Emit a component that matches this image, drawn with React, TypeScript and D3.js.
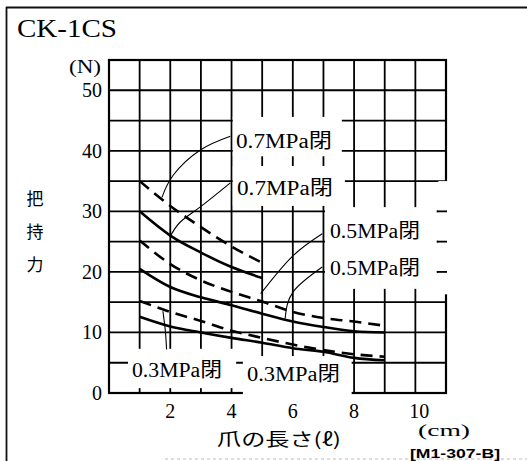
import React from "react";
import * as d3 from "d3";

// ---- data ----
const lengthsShort = [1, 2, 3, 4, 5];
const lengthsLong = [1, 2, 3, 4, 5, 6, 7, 8, 9];
const force07Dashed = [35.0, 30.9, 27.4, 24.2, 21.5];
const force07Solid = [30.0, 26.0, 23.2, 20.8, 19.0];
const force05Dashed = [25.2, 21.3, 18.6, 16.7, 15.1, 13.4, 12.4, 11.8, 11.1];
const force05Solid = [20.5, 17.5, 15.8, 14.5, 13.1, 11.8, 10.9, 10.2, 10.0];
const force03Dashed = [15.2, 13.4, 11.9, 10.3, 9.1, 8.0, 7.1, 6.4, 6.0];
const force03Solid = [12.6, 11.0, 10.0, 9.1, 8.3, 7.4, 6.8, 5.8, 5.4];

const xTickValues = [2, 4, 6, 8, 10];
const yTickValues = [0, 10, 20, 30, 40, 50];
const gridXValues = d3.range(0, 12, 1);
const gridYValues = d3.range(0, 56, 5);

const labelTexts = ["0.7MPa閉", "0.7MPa閉", "0.5MPa閉", "0.5MPa閉", "0.3MPa閉", "0.3MPa閉"];
const titleText = "CK-1CS";
const yTitleChars = ["把", "持", "力"];
const xTitleText = "爪の長さ(ℓ)";
const unitY = "(N)";
const unitX = "(cm)";
const codeText = "[M1-307-B]";

// leader lines (data coordinates)
const leaderPaths: [number, number][][] = [
  [[3.96, 42.4], [2.97, 40.1], [2.1, 36.0], [1.73, 32.3]],
  [[3.96, 34.7], [2.97, 30.7], [2.32, 28.2], [1.99, 25.8]],
  [[6.96, 26.3], [5.97, 22.5], [4.95, 16.4]],
  [[6.96, 20.8], [6.01, 16.7], [5.75, 12.3]],
  [[1.88, 7.2], [1.84, 10.2], [1.76, 13.5]],
];

// ---- layout ----
const W = 527;
const H = 461;
const x = d3.scaleLinear().domain([0, 11]).range([109, 446]);
const y = d3.scaleLinear().domain([0, 55]).range([393, 60]);

// white label boxes in data units [x0, x1, y0, y1]
const boxes: [number, number, number, number][] = [
  [4.04, 7.6, 39.1, 45.6],
  [4.04, 7.7, 30.9, 37.5],
  [7.05, 10.7, 17.2, 30.7],
  [0.62, 4.15, 0.8, 7.3],
  [4.37, 7.92, -0.4, 6.1],
];

const labelPos = [
  { x: 236, y: 148, w: 96 },
  { x: 237, y: 195, w: 96 },
  { x: 330, y: 238, w: 90 },
  { x: 330, y: 275, w: 90 },
  { x: 132, y: 377, w: 90 },
  { x: 247, y: 381, w: 93 },
];

const serif = "'Liberation Serif', 'DejaVu Serif', 'Noto Sans CJK JP', serif";
const cjk = "'Noto Sans CJK JP', sans-serif";

export default function App() {
  const line = d3
    .line<[number, number]>()
    .x((d) => x(d[0]))
    .y((d) => y(d[1]))
    .curve(d3.curveMonotoneX);
  const leader = d3
    .line<[number, number]>()
    .x((d) => x(d[0]))
    .y((d) => y(d[1]))
    .curve(d3.curveNatural);

  const series = [
    { xs: lengthsShort, ys: force07Dashed, dashed: true },
    { xs: lengthsShort, ys: force07Solid, dashed: false },
    { xs: lengthsLong, ys: force05Dashed, dashed: true },
    { xs: lengthsLong, ys: force05Solid, dashed: false },
    { xs: lengthsLong, ys: force03Dashed, dashed: true },
    { xs: lengthsLong, ys: force03Solid, dashed: false },
  ];

  return (
    <svg
      width={W}
      height={H}
      viewBox={`0 0 ${W} ${H}`}
      style={{ position: "absolute", left: 0, top: 0, background: "#fff" }}
    >
      <rect x={0} y={0} width={W} height={H} fill="#fff" />
      {/* outer frame */}
      <line x1={6} y1={7.5} x2={W} y2={7.5} stroke="#111" strokeWidth={1.8} />
      <line x1={6.5} y1={7} x2={6.5} y2={H} stroke="#111" strokeWidth={1.8} />
      <line x1={165} y1={459} x2={W} y2={459} stroke="#bbb" strokeWidth={1} strokeDasharray="3 3" />

      {/* grid */}
      {gridXValues.map((g) => (
        <line key={"gx" + g} x1={x(g)} x2={x(g)} y1={y(0)} y2={y(55)} stroke="#000" strokeWidth={1.8} />
      ))}
      {gridYValues.map((g) => (
        <line key={"gy" + g} x1={x(0)} x2={x(11)} y1={y(g)} y2={y(g)} stroke="#000" strokeWidth={1.8} />
      ))}
      <rect x={x(0)} y={y(55)} width={x(11) - x(0)} height={y(0) - y(55)} fill="none" stroke="#000" strokeWidth={2.2} />

      {/* label boxes */}
      {boxes.map((b, i) => (
        <rect
          key={"b" + i}
          x={x(b[0])}
          y={y(b[3])}
          width={x(b[1]) - x(b[0])}
          height={y(b[2]) - y(b[3])}
          fill="#fff"
        />
      ))}
      {/* gap in right border */}
      <rect x={x(10.75)} y={y(35.0)} width={12} height={y(16.3) - y(35.0)} fill="#fff" />
      {[30, 25, 20].map((g) => (
        <line key={"st" + g} x1={x(10.7)} x2={x(11) + 1} y1={y(g)} y2={y(g)} stroke="#000" strokeWidth={1.8} />
      ))}

      {/* curves */}
      {series.map((s, i) => (
        <path
          key={"s" + i}
          d={line(s.xs.map((v, j) => [v, s.ys[j]] as [number, number])) || ""}
          fill="none"
          stroke="#000"
          strokeWidth={2.6}
          strokeDasharray={s.dashed ? "12 7" : undefined}
        />
      ))}

      {/* leaders */}
      {leaderPaths.map((p, i) => (
        <path key={"l" + i} d={leader(p) || ""} fill="none" stroke="#000" strokeWidth={1.1} />
      ))}

      {/* labels */}
      {labelTexts.map((t, i) => (
        <text
          key={"t" + i}
          x={labelPos[i].x}
          y={labelPos[i].y}
          fontFamily={serif}
          fontSize={20}
          textLength={labelPos[i].w}
          lengthAdjust="spacingAndGlyphs"
          fill="#000"
        >
          {t}
        </text>
      ))}

      {/* title */}
      <text x={17} y={37} fontFamily={serif} fontSize={25} textLength={100} lengthAdjust="spacingAndGlyphs">
        {titleText}
      </text>

      {/* y axis */}
      <text x={101} y={73} textAnchor="end" fontFamily={serif} fontSize={19} textLength={32} lengthAdjust="spacingAndGlyphs">
        {unitY}
      </text>
      {yTickValues.map((v) => (
        <text key={"yt" + v} x={102} y={y(v) + 7} textAnchor="end" fontFamily={serif} fontSize={20}>
          {v}
        </text>
      ))}
      {yTitleChars.map((c, i) => (
        <text key={"yc" + i} x={35} y={205 + i * 33} textAnchor="middle" fontFamily={cjk} fontSize={17}>
          {c}
        </text>
      ))}

      {/* x axis */}
      {xTickValues.map((v) => (
        <text
          key={"xt" + v}
          x={x(v) + (v === 10 ? 4 : 0)}
          y={418}
          textAnchor="middle"
          fontFamily={serif}
          fontSize={20}
        >
          {v}
        </text>
      ))}
      <text x={418} y={436} fontFamily={serif} fontSize={16} textLength={52} lengthAdjust="spacingAndGlyphs">
        {unitX}
      </text>
      <text x={217} y={446} fontFamily={cjk} fontSize={18} textLength={124} lengthAdjust="spacingAndGlyphs">
        {xTitleText}
      </text>
      <text
        x={410}
        y={458}
        fontFamily="'Liberation Sans', Arial, sans-serif"
        fontSize={12}
        fontWeight="bold"
        textLength={90}
        lengthAdjust="spacingAndGlyphs"
      >
        {codeText}
      </text>
    </svg>
  );
}
